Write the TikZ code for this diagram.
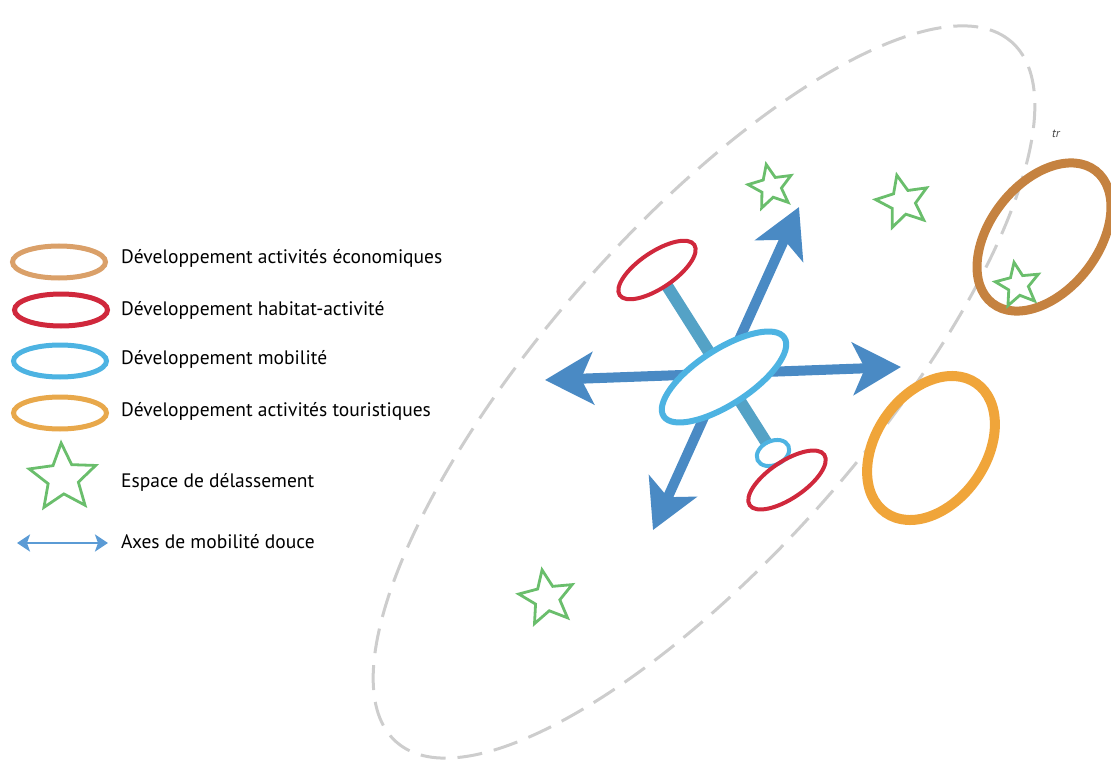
\documentclass[tikz,border=0pt]{standalone}
\usepackage{fontspec}
\setmainfont{PT Sans}
\usetikzlibrary{shapes.geometric,arrows.meta}

\definecolor{ecoLeg}{RGB}{218,160,105}
\definecolor{ecoMap}{RGB}{197,130,64}
\definecolor{habRed}{RGB}{208,40,60}
\definecolor{mobBlue}{RGB}{77,179,226}
\definecolor{tourLeg}{RGB}{232,168,75}
\definecolor{tourMap}{RGB}{240,165,58}
\definecolor{starGreen}{RGB}{106,190,108}
\definecolor{axisBlue}{RGB}{74,138,196}
\definecolor{axisLeg}{RGB}{91,155,213}
\definecolor{zoneGray}{RGB}{205,205,205}

\pgfdeclarelayer{back}
\pgfdeclarelayer{mid}
\pgfsetlayers{back,mid,main}

\begin{document}
\begin{tikzpicture}[x=1pt,y=-1pt,
  ring/.style={ellipse, draw, inner sep=0pt, outer sep=0pt},
  legring/.style={ring, line width=5pt, minimum width=93pt, minimum height=32pt},
  greenstar/.style={star, star points=5, star point ratio=2.2, draw=starGreen,
    line width=2.8pt, inner sep=0pt, line join=miter},
  legtext/.style={anchor=base west, inner sep=0pt, font=\fontsize{19.5}{22}\selectfont},
  bigaxis/.style={draw=axisBlue, line width=10pt,
    {Stealth[length=48pt,width=52pt,inset=12pt]}-{Stealth[length=48pt,width=52pt,inset=12pt]}},
  stick/.style={draw=mobBlue!85!black!90, line width=12pt}
]
\useasboundingbox (0,0) rectangle (1111,762);
\clip (0,0) rectangle (1111,762);

% ---- legend ----
\node[legring, draw=ecoLeg]  (legEco)  at (59,262) {};
\node[legring, draw=habRed]  (legHab)  at (61,310) {};
\node[legring, draw=mobBlue] (legMob)  at (60,361) {};
\node[legring, draw=tourLeg] (legTour) at (60,413) {};
\node[greenstar, minimum size=70pt, rotate=3] (legStar) at (63,478) {};
\coordinate (legArrW) at (17,543);
\coordinate (legArrE) at (108,543);
\draw[axisLeg, line width=2.4pt, {Stealth[length=13pt,width=17pt,inset=3pt]}-{Stealth[length=13pt,width=17pt,inset=3pt]}] (legArrW) -- (legArrE);

\node[legtext] (txtEco)  at (121,263) {Développement activités économiques};
\node[legtext] (txtHab)  at (121,315) {Développement habitat-activité};
\node[legtext] (txtMob)  at (121,364) {Développement mobilité};
\node[legtext] (txtTour) at (121,416) {Développement activités touristiques};
\node[legtext] (txtStar) at (121,487) {Espace de délassement};
\node[legtext] (txtAxes) at (121,548) {Axes de mobilité douce};

% ---- study area ----
\begin{pgfonlayer}{back}
\node[ring, draw=zoneGray, line width=3pt, dash pattern=on 25pt off 12pt,
  minimum width=932pt, minimum height=324pt, rotate=48.7] (zone) at (704,392) {};
\end{pgfonlayer}

% ---- central hub ----
\node[ring, draw=mobBlue, fill=white, line width=6pt,
  minimum width=144pt, minimum height=55pt, rotate=33] (mobC) at (724,377) {};
\node[ring, draw=mobBlue, fill=white, line width=4pt,
  minimum width=34pt, minimum height=24pt, rotate=25] (mobS) at (773,453) {};
\node[ring, draw=habRed, fill=white, line width=4pt,
  minimum width=90pt, minimum height=36pt, rotate=34] (habN) at (657,270) {};
\node[ring, draw=habRed, line width=4pt,
  minimum width=90pt, minimum height=37pt, rotate=34] (habS) at (787,480) {};

\coordinate (axW)  at (545,380);
\coordinate (axE)  at (901,367);
\coordinate (axNE) at (799,207);
\coordinate (axSW) at (653,530);

\begin{pgfonlayer}{mid}
\draw[stick] (habN.center) -- (mobS.center);
\draw[bigaxis] (axW) -- (axE);
\draw[bigaxis] (axSW) -- (axNE);
\end{pgfonlayer}

% ---- economic and tourist poles ----
\node[ring, draw=ecoMap, line width=9pt,
  minimum width=168pt, minimum height=108pt, rotate=52] (eco) at (1044,237) {};
\node[ring, draw=tourMap, line width=10pt,
  minimum width=158pt, minimum height=110pt, rotate=55] (tour) at (931,448) {};

% ---- leisure spaces ----
\node[greenstar, minimum size=46pt, rotate=12] (star1) at (771,187) {};
\node[greenstar, minimum size=55pt, rotate=13] (star2) at (903,202) {};
\node[greenstar, minimum size=46pt, rotate=10] (star3) at (1018,285) {};
\node[greenstar, minimum size=57pt, rotate=10] (star4) at (547,598) {};

\node[inner sep=0pt, font=\fontsize{12}{12}\selectfont\itshape, text=black!75] (note) at (1056,134) {tr};
\end{tikzpicture}
\end{document}
